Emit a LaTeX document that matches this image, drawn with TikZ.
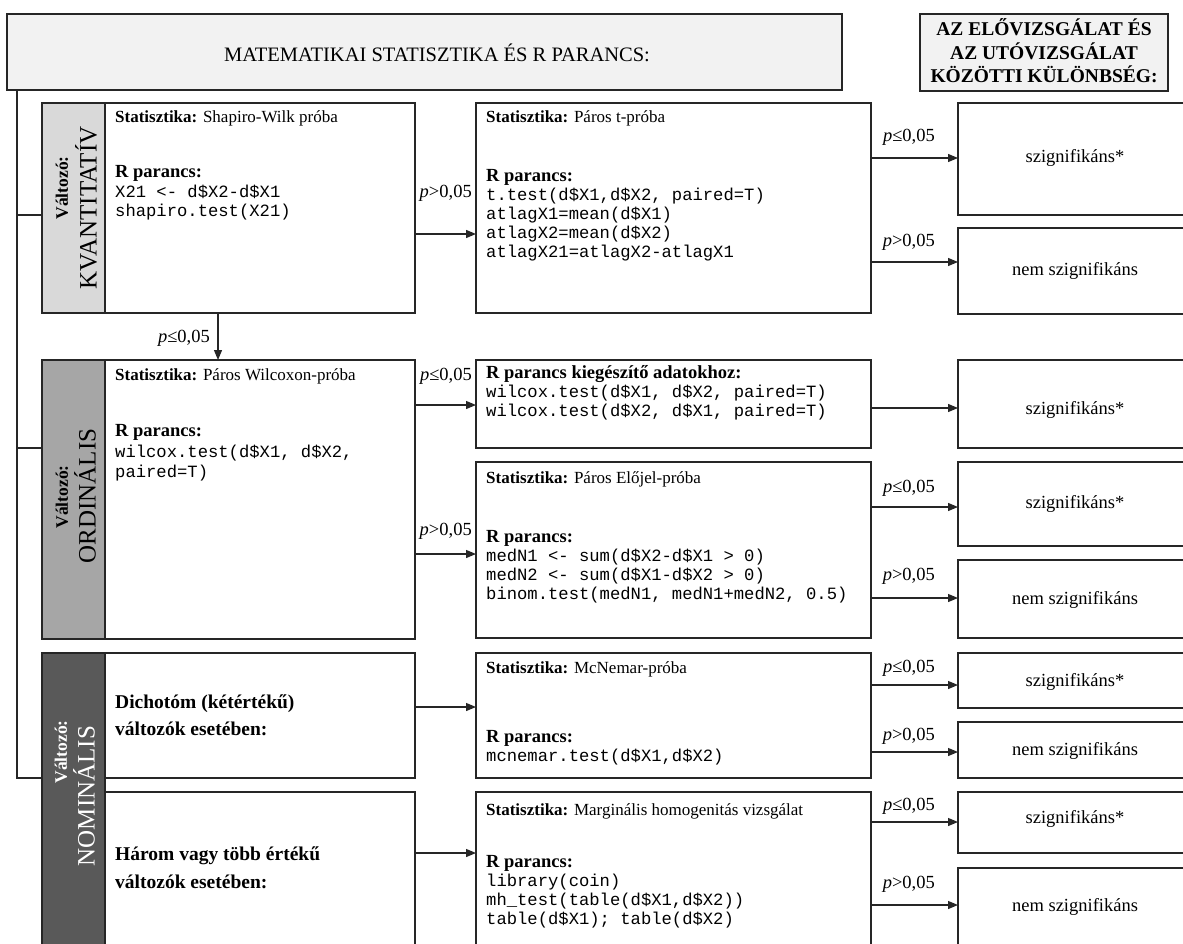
\documentclass[tikz,border=0pt]{standalone}
\usepackage{fontspec}
\setmainfont{Liberation Serif}
\setmonofont{Liberation Mono}
\usetikzlibrary{arrows.meta,calc}
\definecolor{linec}{HTML}{262626}
\definecolor{hdrc}{HTML}{F2F2F2}
\definecolor{gone}{HTML}{D9D9D9}
\definecolor{gtwo}{HTML}{A6A6A6}
\definecolor{gthree}{HTML}{595959}
\newcommand\bx[6]{\node[boxst, fill=#6, minimum width=#4pt, minimum height=#5pt] (#1) at (#2,#3) {};}
\begin{document}
\begin{tikzpicture}[x=1pt,y=-1pt,
  boxst/.style={draw=linec, line width=1.3pt, inner sep=0pt, outer sep=0pt, anchor=north west},
  ln/.style={draw=linec, line width=1.2pt},
  arr/.style={draw=linec, line width=1.2pt, -{Triangle[length=10pt,width=8pt]}},
  st/.style={anchor=base west, inner sep=0pt, font=\fontsize{17}{20}\selectfont},
  rp/.style={anchor=base west, inner sep=0pt, font=\fontsize{18.5}{22}\selectfont\bfseries},
  rpb/.style={anchor=base west, inner sep=0pt, font=\fontsize{19.5}{22}\selectfont\bfseries},
  cd/.style={anchor=base west, inner sep=0pt, font=\fontsize{17.2}{19}\selectfont\ttfamily},
  plab/.style={anchor=base east, inner sep=0pt, font=\fontsize{18.5}{20}\selectfont},
  res/.style={anchor=center, inner sep=0pt, font=\fontsize{18.5}{20}\selectfont},
  vsm/.style={rotate=90, anchor=center, inner sep=0pt, font=\fontsize{17.5}{22}\selectfont\bfseries},
  vbig/.style={rotate=90, anchor=center, inner sep=0pt, font=\fontsize{25}{28}\selectfont}
]
\useasboundingbox (0,0) rectangle (1183,944);
\fill[white] (0,0) rectangle (1183,944);
\clip (0,0) rectangle (1183,944);

% headers
\bx{hdr}{7}{14}{835}{76}{hdrc}
\node[font=\fontsize{20.5}{22}\selectfont] (hdrt) at (437,53) {MATEMATIKAI STATISZTIKA ÉS R PARANCS:};
\bx{hdrr}{920}{14}{248}{77}{hdrc}
\node[align=center, font=\fontsize{19.5}{23.5}\selectfont\bfseries] (hdrrt) at (1044,51) {AZ ELŐVIZSGÁLAT ÉS\\AZ UTÓVIZSGÁLAT\\KÖZÖTTI KÜLÖNBSÉG:};

% KVANTITATIV row
\bx{kqL}{42}{103}{63}{210}{gone}
\bx{kq}{105}{103}{310}{210}{white}
\node[vsm] (kqv1) at (62,188) {Változó:};
\node[vbig] (kqv2) at (86,208) {KVANTITATÍV};
\node[st] (kq1) at (115,123) {\textbf{Statisztika:} Shapiro-Wilk próba};
\node[rp] (kq2) at (115,178) {R parancs:};
\node[cd] (kq3) at (115,197) {X21 <- d\$X2-d\$X1};
\node[cd] (kq4) at (115,216) {shapiro.test(X21)};

\bx{tt}{476}{103}{395}{210}{white}
\node[st] (tt1) at (486,123) {\textbf{Statisztika:} Páros t-próba};
\node[rp] (tt2) at (486,182) {R parancs:};
\node[cd] (tt3) at (486,201) {t.test(d\$X1,d\$X2, paired=T)};
\node[cd] (tt4) at (486,220) {atlagX1=mean(d\$X1)};
\node[cd] (tt5) at (486,239) {atlagX2=mean(d\$X2)};
\node[cd] (tt6) at (486,258) {atlagX21=atlagX2-atlagX1};

\bx{r1}{958}{103}{240}{112}{white}
\node[res] (r1t) at (1075,158) {szignifikáns*};
\bx{r2}{958}{228}{240}{86}{white}
\node[res] (r2t) at (1075,271) {nem szignifikáns};

% ORDINALIS row
\bx{orL}{42}{360}{63}{279}{gtwo}
\bx{or}{105}{360}{310}{279}{white}
\node[vsm] (orv1) at (62,497) {Változó:};
\node[vbig] (orv2) at (85,496) {ORDINÁLIS};
\node[st] (or1) at (115,380) {\textbf{Statisztika:} Páros Wilcoxon-próba};
\node[rp] (or2) at (115,436) {R parancs:};
\node[cd] (or3) at (115,457) {wilcox.test(d\$X1, d\$X2,};
\node[cd] (or4) at (115,477) {paired=T)};

\bx{kg}{476}{360}{395}{88}{white}
\node[rp] (kg1) at (486,378) {R parancs kiegészítő adatokhoz:};
\node[cd] (kg2) at (486,397) {wilcox.test(d\$X1, d\$X2, paired=T)};
\node[cd] (kg3) at (486,416) {wilcox.test(d\$X2, d\$X1, paired=T)};

\bx{el}{476}{462}{395}{176}{white}
\node[st] (el1) at (486,483) {\textbf{Statisztika:} Páros Előjel-próba};
\node[rp] (el2) at (486,542) {R parancs:};
\node[cd] (el3) at (486,561) {medN1 <- sum(d\$X2-d\$X1 > 0)};
\node[cd] (el4) at (486,580) {medN2 <- sum(d\$X1-d\$X2 > 0)};
\node[cd] (el5) at (486,599) {binom.test(medN1, medN1+medN2, 0.5)};

\bx{r3}{958}{360}{240}{88}{white}
\node[res] (r3t) at (1075,410) {szignifikáns*};
\bx{r4}{958}{462}{240}{84}{white}
\node[res] (r4t) at (1075,504) {szignifikáns*};
\bx{r5}{958}{560}{240}{78}{white}
\node[res] (r5t) at (1075,600) {nem szignifikáns};

% NOMINALIS row
\bx{nmL}{42}{653}{63}{330}{gthree}
\bx{d}{105}{653}{310}{125}{white}
\bx{h}{105}{792}{310}{180}{white}
\node[vsm, text=white] (nmv1) at (61,752) {Változó:};
\node[vbig, text=white] (nmv2) at (84,796) {NOMINÁLIS};
\node[rpb] (d1) at (115,708) {Dichotóm (kétértékű)};
\node[rpb] (d2) at (115,735) {változók esetében:};
\node[rpb] (h1) at (115,860) {Három vagy több értékű};
\node[rpb] (h2) at (115,888) {változók esetében:};

\bx{mc}{476}{653}{395}{125}{white}
\node[st] (mc1) at (486,673) {\textbf{Statisztika:} McNemar-próba};
\node[rp] (mc2) at (486,742) {R parancs:};
\node[cd] (mc3) at (486,761) {mcnemar.test(d\$X1,d\$X2)};

\bx{mg}{476}{792}{395}{180}{white}
\node[st] (mg1) at (486,815) {\textbf{Statisztika:} Marginális homogenitás vizsgálat};
\node[rp] (mg2) at (486,867) {R parancs:};
\node[cd] (mg3) at (486,886) {library(coin)};
\node[cd] (mg4) at (486,905) {mh\_test(table(d\$X1,d\$X2))};
\node[cd] (mg5) at (486,924) {table(d\$X1); table(d\$X2)};

\bx{r6}{958}{653}{240}{55}{white}
\node[res] (r6t) at (1075,682) {szignifikáns*};
\bx{r7}{958}{722}{240}{56}{white}
\node[res] (r7t) at (1075,751) {nem szignifikáns};
\bx{r8}{958}{792}{240}{61}{white}
\node[res] (r8t) at (1075,819) {szignifikáns*};
\bx{r9}{958}{868}{240}{100}{white}
\node[res] (r9t) at (1075,907) {nem szignifikáns};

% spine
\draw[ln] (17,0 |- hdr.south) -- (17,0 |- d.south) -- (nmL.west |- d.south);
\draw[ln] (17,215) -- (kqL.west |- 0,215);
\draw[ln] (17,448) -- (orL.west |- 0,448);

% arrows
\draw[arr] (kq.south -| 218,0) -- (or.north -| 218,0);
\draw[arr] (kq.east |- 0,234) -- (tt.west |- 0,234);
\draw[arr] (tt.east |- 0,158) -- (r1.west |- 0,158);
\draw[arr] (tt.east |- 0,262) -- (r2.west |- 0,262);
\draw[arr] (or.east |- 0,405) -- (kg.west |- 0,405);
\draw[arr] (or.east |- 0,554) -- (el.west |- 0,554);
\draw[arr] (kg.east |- 0,408) -- (r3.west |- 0,408);
\draw[arr] (el.east |- 0,507) -- (r4.west |- 0,507);
\draw[arr] (el.east |- 0,598) -- (r5.west |- 0,598);
\draw[arr] (d.east |- 0,707) -- (mc.west |- 0,707);
\draw[arr] (h.east |- 0,853) -- (mg.west |- 0,853);
\draw[arr] (mc.east |- 0,685) -- (r6.west |- 0,685);
\draw[arr] (mc.east |- 0,752) -- (r7.west |- 0,752);
\draw[arr] (mg.east |- 0,822) -- (r8.west |- 0,822);
\draw[arr] (mg.east |- 0,905) -- (r9.west |- 0,905);

% labels
\node[plab] (p1) at (472,197) {\textit{p}>0,05};
\node[plab] (p2) at (935,142) {\textit{p}≤0,05};
\node[plab] (p3) at (935,247) {\textit{p}>0,05};
\node[plab] (p4) at (210,342) {\textit{p}≤0,05};
\node[plab] (p5) at (472,380) {\textit{p}≤0,05};
\node[plab] (p6) at (472,535) {\textit{p}>0,05};
\node[plab] (p7) at (935,492) {\textit{p}≤0,05};
\node[plab] (p8) at (935,580) {\textit{p}>0,05};
\node[plab] (p9) at (935,672) {\textit{p}≤0,05};
\node[plab] (p10) at (935,740) {\textit{p}>0,05};
\node[plab] (p11) at (935,810) {\textit{p}≤0,05};
\node[plab] (p12) at (935,888) {\textit{p}>0,05};
\end{tikzpicture}
\end{document}
